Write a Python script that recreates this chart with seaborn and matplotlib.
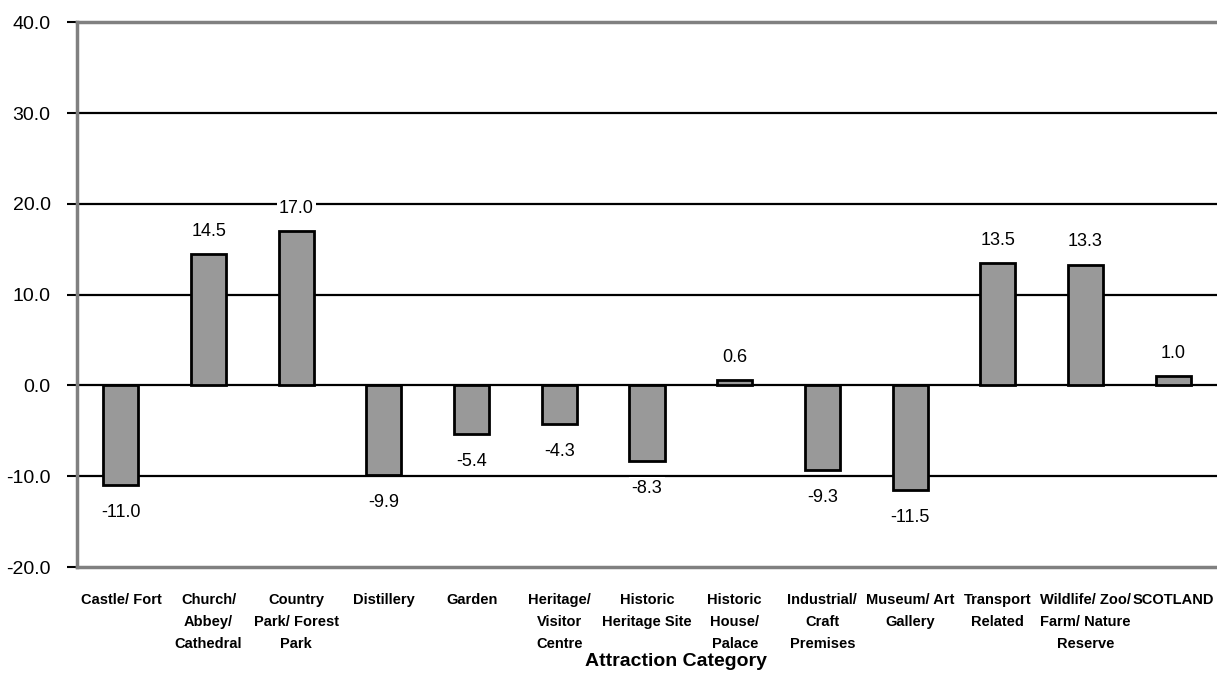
import matplotlib
matplotlib.use("Agg")
import matplotlib.pyplot as plt
import seaborn as sns
import pandas as pd

categories = [
    "Castle/ Fort", "Church/\nAbbey/\nCathedral", "Country\nPark/ Forest\nPark",
    "Distillery", "Garden", "Heritage/\nVisitor\nCentre", "Historic\nHeritage Site",
    "Historic\nHouse/\nPalace", "Industrial/\nCraft\nPremises", "Museum/ Art\nGallery",
    "Transport\nRelated", "Wildlife/ Zoo/\nFarm/ Nature\nReserve", "SCOTLAND",
]
values = [-11.0, 14.5, 17.0, -9.9, -5.4, -4.3, -8.3, 0.6, -9.3, -11.5, 13.5, 13.3, 1.0]
yticks = [-20, -10, 0, 10, 20, 30, 40]

df = pd.DataFrame({"cat": categories, "val": values})

sns.set_style("white")
plt.rcParams["font.family"] = ["Liberation Sans", "DejaVu Sans"]
plt.rcParams["text.color"] = "black"
plt.rcParams["xtick.color"] = "black"
plt.rcParams["ytick.color"] = "black"
plt.rcParams["axes.labelcolor"] = "black"

fig = plt.figure(figsize=(12.17, 6.73), dpi=100)
ax = fig.add_axes([0.0633, 0.1575, 0.9367, 0.8095])

# gridlines
for y in yticks[1:-1]:
    ax.axhline(y, color="black", lw=1.6, zorder=0)

sns.barplot(data=df, x="cat", y="val", color="#999999", edgecolor="black",
            linewidth=2, width=0.4, saturation=1, ax=ax, zorder=2)

for i, v in enumerate(values):
    off = 2.5 if v >= 0 else -3.0
    ax.text(i, v + off, f"{v:.1f}", ha="center", va="center", fontsize=13,
            bbox=dict(facecolor="white", edgecolor="none", pad=1.5), zorder=3)

ax.set_ylim(-20, 40)
ax.set_xlim(-0.5, len(categories) - 0.5)
ax.set_yticks(yticks)
ax.set_yticklabels([f"{t:.1f}" for t in yticks], fontsize=14)
ax.tick_params(axis="y", direction="out", length=7, width=1.5, left=True, pad=12)
ax.tick_params(axis="x", length=0, pad=19, labelsize=10.5)
for lab in ax.get_xticklabels():
    lab.set_fontweight("bold")
    lab.set_verticalalignment("top")
    lab.set_linespacing(1.72)

for s in ["left", "bottom", "top"]:
    ax.spines[s].set_visible(True)
    ax.spines[s].set_color("#808080")
    ax.spines[s].set_linewidth(2.5)
ax.spines["right"].set_visible(False)

ax.set_ylabel("")
ax.set_xlabel("Attraction Category", fontsize=14, fontweight="bold")
ax.xaxis.set_label_coords(0.525, -0.174)
ax.xaxis.label.set_verticalalignment("center")

fig.savefig("out.png", dpi=100)
